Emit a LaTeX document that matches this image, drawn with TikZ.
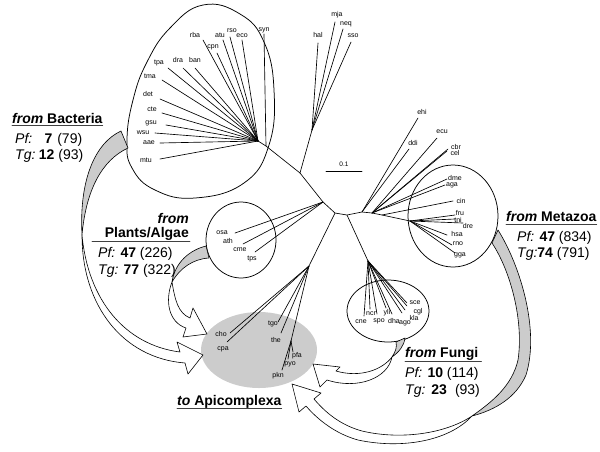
\documentclass[tikz,border=0pt]{standalone}
\usepackage{fontspec}
\setmainfont{Liberation Sans}
\begin{document}
\begin{tikzpicture}[x=1pt,y=-1pt,line join=round,line cap=round,
  br/.style={line width=0.65pt},
  lf/.style={font=\fontsize{7}{7}\selectfont,inner sep=0pt},
  grp/.style={line width=0.75pt},
  arr/.style={line width=0.6pt,fill=white},
  tailc/.style={line width=0.6pt,fill=black!20},
  ttl/.style={font=\fontsize{14}{16}\selectfont,anchor=base west,inner sep=0pt},
  ul/.style={line width=0.9pt,black!75}]
\useasboundingbox (0,0) rectangle (600,451);
% Apicomplexa area
\fill[black!20] (259,350) ellipse [x radius=58pt, y radius=38pt];
% internal points
\coordinate (B) at (258,141);
\coordinate (Bs) at (266,146);
\coordinate (J1) at (300,173);
\coordinate (A) at (312,130);
\coordinate (J2) at (323,202);
\coordinate (J3) at (335,213);
\coordinate (J4) at (347,215);
\coordinate (J5) at (362,212);
\coordinate (J6) at (372,213);
\coordinate (J7) at (382,215);
\coordinate (J8) at (410,221);
\coordinate (P) at (309,266);
\coordinate (R) at (291,341);
\coordinate (F) at (368,261);
% backbone
\draw[br] (B) -- (Bs) -- (J1) -- (J2) -- (J3) -- (J4) -- (J5) -- (J6) -- (J7) -- (J8);
\draw[br] (J1) -- (A);
\draw[br] (J3) -- (P);
\draw[br] (P) -- (R);
\draw[br] (J4) -- (F);
% leaves
\foreach \h/\tx/\ty/\lx/\ly/\t in {
  B/203/40/195/35/rba, B/217/53/213/47/cpn, B/223/40/220/35/atu, B/230/37/232/31/rso,
  B/242/40/242/36/eco, Bs/264/34/264/30/syn, B/168/68/159/63/tpa, B/183/68/178/60/dra,
  B/195/68/195/60/ban, B/162/80/150/76/tma, B/160/99/148/94/det, B/162/113/152/109/cte,
  B/166/125/151/123/gsu, B/155/133/143/133/wsu, B/160/143/149/143/aae, B/160/159/146/160/mtu,
  A/318/43/318/35/hal, A/335/22/337/15/mja, A/343/29/346/24/neq, A/351/42/353/36/sso,
  P/230/333/221/334/cho, P/227/342/223/349/cpa, P/278/322/273/324/tgo, P/281/333/276/340/the,
  R/293/352/297/356/pfa, R/288/359/290/364/pyo, R/282/370/278/376/pkn,
  F/364/316/361/322/cne, F/370/309/371/314/ncr, F/377/314/379/321/spo, F/386/308/387/313/yli,
  F/392/314/394/321/dha, F/402/313/405/323/ago, F/405/310/414/318/kla, F/407/306/418/312/cgl,
  F/407/303/415/303/sce,
  J5/418/118/422/112/ehi, J5/409/149/413/143/ddi, J6/437/138/442/132/ecu,
  J6/448/149/456/147/cbr, J6/447/151/455/153/cel,
  J6/447/179/455/178/dme, J6/445/185/452/185/aga, J7/453/201/461/201/cin,
  J8/455/215/460/213/fru, J8/455/219/458/220/tni, J8/463/223/468/226/dre,
  J8/447/235/457/234/hsa, J8/452/245/458/244/rno, J8/455/253/460/255/gga}
{
  \draw[br] (\h) -- (\tx,\ty) coordinate (t\t);
  \node[lf] (n\t) at (\lx,\ly) {\t};
}
% plants
\draw[br] (J2) -- (235,233) coordinate (p1);
\draw[br] (J2) -- (243,244) coordinate (p2);
\draw[br] (J2) -- (255,252) coordinate (p3);
\node[lf] (nosa) at (222,233) {osa};
\node[lf] (nath) at (228,241) {ath};
\node[lf] (ncme) at (240,250) {cme};
\node[lf] (ntps) at (252,259) {tps};
% scale bar
\coordinate (s1) at (326,171);
\coordinate (s2) at (362,171);
\draw[line width=0.9pt] (s1) -- (s2);
\node[lf,font=\fontsize{6.5}{6.5}\selectfont] (scl) at (344,164) {0.1};
% group outlines
\draw[grp] plot[smooth cycle, tension=0.75] coordinates {(203,5) (240,14) (264,42) (274,90) (269,145) (244,183) (195,198) (155,190) (132,168) (127,140) (133,100) (147,62) (170,28)};
\draw[grp] (241,240) ellipse [x radius=35pt, y radius=38pt];
\draw[grp] (453,216) ellipse [x radius=45pt, y radius=51pt];
\draw[grp] (388,311) ellipse [x radius=41pt, y radius=31pt];
% arrow from bacteria
\draw[tailc] (121,131) .. controls (95,143) and (79,180) .. (82,235) .. controls (86,190) and (102,160) .. (128,148) -- cycle;
\draw[arr] (82,235) .. controls (88,300) and (125,345) .. (180,352) -- (177,342) -- (203,355) -- (188,374) -- (185,363) .. controls (122,358) and (82,305) .. (82,235) -- cycle;
% arrow from plants
\draw[tailc] (206,246) .. controls (190,250) and (175,262) .. (172,282) .. controls (180,268) and (193,259) .. (209,258) -- cycle;
\draw[arr] (172,282) .. controls (175,300) and (178,313) .. (190,318) -- (193,308) -- (207,334) -- (183,337) -- (186,328) .. controls (168,322) and (165,300) .. (172,282) -- cycle;
% arrow from metazoa
\draw[tailc] (498,230) .. controls (520,265) and (540,330) .. (526,375) .. controls (516,398) and (495,410) .. (472,416) .. controls (492,402) and (512,386) .. (518,360) .. controls (524,320) and (510,270) .. (492,243) -- cycle;
\draw[arr] (472,416) .. controls (445,434) and (400,440) .. (362,431) .. controls (340,425) and (325,412) .. (314,399) -- (321,393) -- (292,384) -- (299,412) -- (306,406) .. controls (318,420) and (336,434) .. (358,440) .. controls (400,449) and (448,442) .. (472,416) -- cycle;
% arrow from fungi
\draw[tailc] (405,338) .. controls (404,346) and (399,352) .. (392,357) .. controls (396,351) and (397,347) .. (396,342) -- cycle;
\draw[arr] (392,357) .. controls (382,370) and (360,378) .. (336,371) -- (340,367) -- (313,364) -- (320,387) -- (327,380) .. controls (358,390) and (388,378) .. (392,357) -- cycle;
% texts
\node[ttl] (tb) at (12,123) {\textbf{\textit{from}} \textbf{Bacteria}};
\draw[ul] ([yshift=-2.5pt]tb.base west) -- ([yshift=-2.5pt]tb.base east);
\node[ttl] (pfb) at (15,143) {\textit{Pf:}\makebox[20pt][r]{\textbf{7}}\hspace{5pt}(79)};
\node[ttl] (tgb) at (15,159) {\textit{Tg:}\makebox[19pt][r]{\textbf{12}}\hspace{4pt}(93)};
\node[ttl,anchor=base east] (tp1) at (189,223) {\textbf{\textit{from}}};
\node[ttl,anchor=base east] (tp2) at (189,237) {\textbf{Plants/Algae}};
\coordinate (u1) at (92,241);
\coordinate (u2) at (190,241);
\draw[ul] (u1) -- (u2);
\node[ttl] (pfp) at (98,257) {\textit{Pf:} \textbf{47} (226)};
\node[ttl] (tgp) at (98,274) {\textit{Tg:} \textbf{77} (322)};
\node[ttl] (tm) at (506,221) {\textbf{\textit{from}} \textbf{Metazoa}};
\draw[ul] ([yshift=-3pt]tm.base west) -- ([yshift=-3pt]tm.base east);
\node[ttl] (pfm) at (517,241) {\textit{Pf:} \textbf{47} (834)};
\node[ttl] (tgm) at (517,257) {\textit{Tg:}\textbf{74} (791)};
\node[ttl] (tf) at (405,357) {\textbf{\textit{from}} \textbf{Fungi}};
\draw[ul] ([yshift=-4pt]tf.base west) -- ([yshift=-4pt,xshift=3pt]tf.base east);
\node[ttl] (pff) at (405,377) {\textit{Pf:} \textbf{10} (114)};
\node[ttl] (tgf) at (405,394) {\textit{Tg:}\hspace{6pt}\textbf{23}\hspace{8pt}(93)};
\node[ttl] (ta) at (177,405) {\textbf{\textit{to}} \textbf{Apicomplexa}};
\draw[ul] ([yshift=-3pt]ta.base west) -- ([yshift=-3pt]ta.base east);
\end{tikzpicture}
\end{document}
